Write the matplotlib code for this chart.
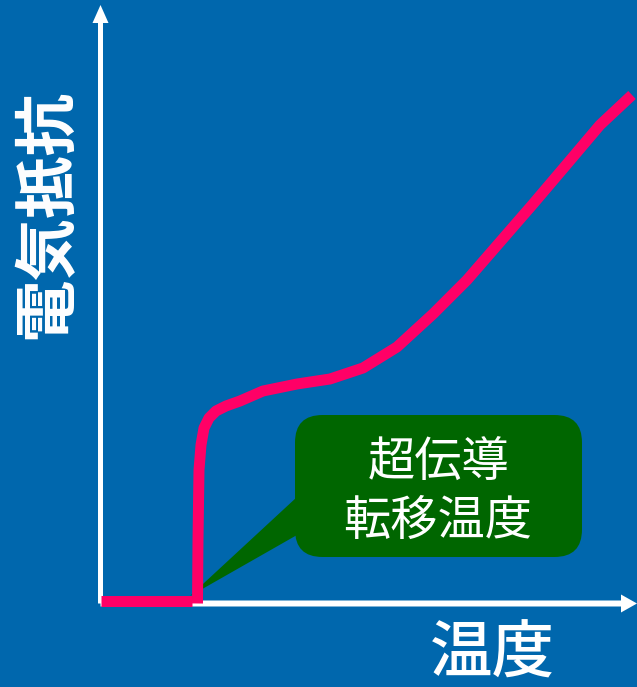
import matplotlib.pyplot as plt
from matplotlib.patches import FancyBboxPatch, Polygon

plt.rcParams['font.family'] = ['Noto Sans CJK JP', 'DejaVu Sans']

bg_blue = '#0067AD'
pink = '#FF0066'
green = '#006600'

# 常伝導側の抵抗カーブ（温度, 抵抗）
temp_curve = [19.4, 19.5, 19.7, 20.1, 20.7, 21.7, 23.1, 25.1, 27.9, 32.5, 39.3,
              45.9, 52.5, 59.3, 66.5, 73.3, 79.9, 86.5, 93.3, 99.9, 106.3]
res_curve = [0.0, 12.7, 26.7, 31.7, 35.1, 37.1, 38.5, 39.5, 40.5, 42.5, 43.9,
             44.9, 47.1, 51.3, 57.9, 64.7, 72.3, 79.9, 87.9, 95.7, 101.7]
# 超伝導状態（抵抗ゼロ）
temp_zero = [0.0, 18.3]
res_zero = [0.6, 0.6]

tc = 17.9  # 転移温度

fig = plt.figure(figsize=(6.37, 6.87), dpi=100)
fig.patch.set_facecolor(bg_blue)
ax = fig.add_axes([0, 0, 1, 1])
ax.set_facecolor(bg_blue)
ax.set_xlim(-20.1, 107.3)
ax.set_ylim(-16.7, 120.7)
ax.axis('off')

# 軸（矢印）
ax.arrow(0, 0, 0, 119.7, width=1.0, head_width=3.2, head_length=3.6,
         length_includes_head=True, color='white', lw=0, zorder=2)
ax.arrow(0, 0, 107.3, 0, width=1.2, head_width=3.6, head_length=3.2,
         length_includes_head=True, color='white', lw=0, zorder=2)

# 吹き出し
box = FancyBboxPatch((38.9, 9.3), 57.4, 28.4,
                     boxstyle='round,pad=0,rounding_size=5.5',
                     fc=green, ec='none', zorder=3)
ax.add_patch(box)
tail = Polygon([(39.3, 21.3), (39.3, 13.7), (tc, 1.5)], closed=True,
               fc=green, ec='none', zorder=3)
ax.add_patch(tail)

# カーブ
ax.plot(temp_zero, res_zero, color=pink, lw=7.9, solid_capstyle='butt', zorder=4)
ax.plot(temp_curve, res_curve, color=pink, lw=7.9, solid_capstyle='butt',
        solid_joinstyle='round', zorder=4)

# 文字
ax.text(67.6, 28.1, '超伝導', color='white', fontsize=34,
        ha='center', va='center', zorder=5)
ax.text(67.4, 16.3, '転移温度', color='white', fontsize=34,
        ha='center', va='center', zorder=5)
ax.text(78.3, -10.3, '温度', color='white', fontsize=45, fontweight='medium',
        ha='center', va='center')
ax.text(-10.7, 77.9, '電気抵抗', color='white', fontsize=45, fontweight='bold',
        rotation=90, ha='center', va='center')

fig.savefig('out.png', dpi=100, facecolor=bg_blue)
